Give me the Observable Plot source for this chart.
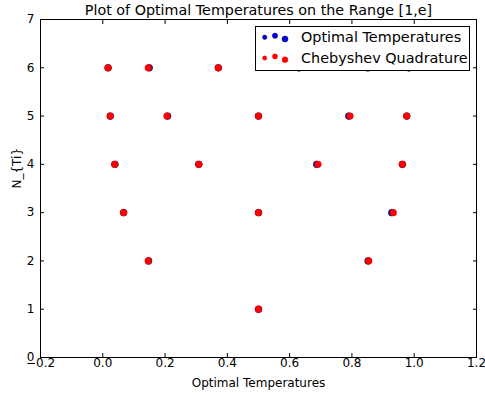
<!DOCTYPE html>
<html><head><meta charset="utf-8">
<script src="https://cdn.jsdelivr.net/npm/d3@7"></script>
<script src="https://cdn.jsdelivr.net/npm/@observablehq/plot@0.6"></script>
<style>
body{margin:0;background:#fff;}
#wrap{position:relative;width:485px;height:393px;font-family:"DejaVu Sans",sans-serif;}
#legend{position:absolute;left:255px;top:26px;width:215px;height:45px;box-sizing:border-box;border:1px solid #000;background:#fff;}
</style>
</head><body><div id="wrap"></div>
<script>
const title = "Plot of Optimal Temperatures on the Range [1,e]";
const xLabel = "Optimal Temperatures";
const yLabel = "N_{Ti}";
const seriesNames = ["Optimal Temperatures", "Chebyshev Quadrature"];
const seriesColors = ["#0000ff", "#ff0000"];
const nTi = [1, 2, 2, 3, 3, 3, 4, 4, 4, 4, 5, 5, 5, 5, 5, 6, 6, 6, 6, 6, 6];
const optimalTemps = [0.5, 0.147, 0.852, 0.067, 0.5, 0.928, 0.039, 0.308, 0.687, 0.962, 0.024, 0.208, 0.5, 0.790, 0.976, 0.017, 0.149, 0.371, 0.63, 0.85, 0.983];
const chebyshevNodes = [0.5, 0.146, 0.854, 0.067, 0.5, 0.933, 0.038, 0.309, 0.691, 0.962, 0.024, 0.206, 0.5, 0.794, 0.976, 0.017, 0.146, 0.371, 0.629, 0.854, 0.983];
const xTicks = [-0.2, 0.0, 0.2, 0.4, 0.6, 0.8, 1.0, 1.2];
const yTicks = [0, 1, 2, 3, 4, 5, 6, 7];

const optimalData = nTi.map((n, i) => ({x: optimalTemps[i], y: n}));
const chebData = nTi.map((n, i) => ({x: chebyshevNodes[i], y: n}));
const fmtX = d => (d < 0 ? "\u2212" : "") + Math.abs(d).toFixed(1);
const fmtY = d => String(d);

const chart = Plot.plot({
  width: 485,
  height: 393,
  marginLeft: 40,
  marginRight: 9,
  marginTop: 19,
  marginBottom: 36,
  style: {fontFamily: "DejaVu Sans, sans-serif", fontSize: "12px", color: "#000", background: "#fff"},
  x: {domain: [-0.2, 1.2]},
  y: {domain: [0, 7]},
  marks: [
    Plot.dot(optimalData, {x: "x", y: "y", r: 3.4, fill: seriesColors[0], stroke: "#000", strokeWidth: 0.6}),
    Plot.dot(chebData, {x: "x", y: "y", r: 3.4, fill: seriesColors[1], stroke: seriesColors[1], strokeWidth: 0.3}),
    Plot.axisX({ticks: xTicks, anchor: "bottom", tickSize: -4, tickPadding: 5, tickFormat: fmtX, label: null}),
    Plot.axisX({ticks: xTicks, anchor: "top", tickSize: -4, tickFormat: () => "", label: null}),
    Plot.axisY({ticks: yTicks, anchor: "left", tickSize: -4, tickPadding: 10, tickFormat: fmtY, label: null}),
    Plot.axisY({ticks: yTicks, anchor: "right", tickSize: -4, tickFormat: () => "", label: null}),
    Plot.frame({stroke: "#000", strokeWidth: 1}),
    Plot.text([title], {text: d => d, frameAnchor: "top", dy: -9, lineAnchor: "middle", fontSize: 14.3, fill: "#000"}),
    Plot.text([xLabel], {text: d => d, frameAnchor: "bottom", dy: 26, lineAnchor: "middle", fontSize: 12, fill: "#000"}),
    Plot.text([yLabel], {text: d => d, frameAnchor: "left", dx: -23, rotate: -90, lineAnchor: "middle", fontSize: 12, fill: "#000"})
  ]
});
const wrap = document.getElementById("wrap");
wrap.appendChild(chart);

// legend overlay
const legend = document.createElement("div");
legend.id = "legend";
wrap.appendChild(legend);
const lsvg = d3.select(legend).append("svg").attr("width", 213).attr("height", 43);
const dotOffsets = [[8.7, 0, 2.2], [19, -1.6, 2.6], [29, 1.7, 3.0]];
const rowY = [10.3, 31];
seriesNames.forEach((name, i) => {
  dotOffsets.forEach(([dx, dy, r]) => {
    lsvg.append("circle").attr("cx", dx).attr("cy", rowY[i] + dy).attr("r", r)
      .attr("fill", seriesColors[i]).attr("stroke", i === 0 ? "#000" : seriesColors[i]).attr("stroke-width", i === 0 ? 0.5 : 0.3);
  });
  lsvg.append("text").attr("x", 45).attr("y", rowY[i]).attr("dominant-baseline", "central")
    .attr("font-family", "DejaVu Sans, sans-serif").attr("font-size", "14.4px").attr("fill", "#000").text(name);
});
</script>
</body></html>
